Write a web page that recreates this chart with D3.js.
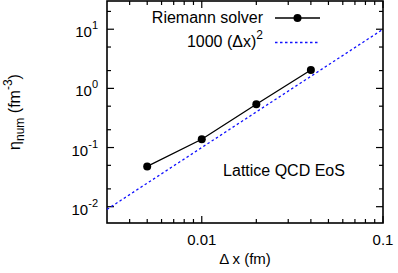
<!DOCTYPE html>
<html>
<head>
<meta charset="utf-8">
<script src="https://cdn.jsdelivr.net/npm/d3@7"></script>
<style>
  body { margin: 0; background: #fff; }
  text { font-family: "Liberation Sans", Arial, sans-serif; fill: #000; }
</style>
</head>
<body>
<div id="chart"></div>
<script>
// Riemann solver results
const dx = [0.005, 0.01, 0.02, 0.04];
const etaNum = [0.048, 0.138, 0.54, 2.04];

// reference line 1000 (dx)^2, endpoints
const refX = [0.003, 0.1];
const refY = [0.009, 10];

const xTicks = [0.01, 0.1];
const xTickLabels = ['0.01', '0.1'];
const yTicks = [0.01, 0.1, 1, 10];
const yTickExp = ['-2', '-1', '0', '1'];

const W = 398, H = 273;
const margin = {top: 1, right: 15, bottom: 50, left: 107};
const width = W - margin.left - margin.right;
const height = H - margin.top - margin.bottom;

const svg = d3.select('#chart').append('svg')
  .attr('width', W)
  .attr('height', H);

const g = svg.append('g')
  .attr('transform', 'translate(' + margin.left + ',' + margin.top + ')');

const x = d3.scaleLog().domain([0.003, 0.1]).range([0, width]);
const y = d3.scaleLog().domain([0.0053, 30]).range([height, 0]);

// minor ticks
const xMinor = [];
[0.001, 0.01].forEach(b => { for (let k = 2; k <= 9; k++) xMinor.push(b * k); });
const xMinorIn = xMinor.filter(v => v > 0.003 && v < 0.1);
const yMinor = [];
[0.001, 0.01, 0.1, 1, 10].forEach(b => { [2, 5].forEach(k => yMinor.push(b * k)); });
const yMinorIn = yMinor.filter(v => v > y.domain()[0] && v < y.domain()[1]);

const majorLen = 7, minorLen = 4;
const ticks = g.append('g').attr('stroke', '#000').attr('stroke-width', 1.2);

function xTick(v, len) {
  ticks.append('line').attr('x1', x(v)).attr('x2', x(v)).attr('y1', height).attr('y2', height - len);
  ticks.append('line').attr('x1', x(v)).attr('x2', x(v)).attr('y1', 0).attr('y2', len);
}
function yTick(v, len) {
  ticks.append('line').attr('y1', y(v)).attr('y2', y(v)).attr('x1', 0).attr('x2', len);
  ticks.append('line').attr('y1', y(v)).attr('y2', y(v)).attr('x1', width).attr('x2', width - len);
}
xMinorIn.forEach(v => xTick(v, minorLen));
xTicks.forEach(v => xTick(v, majorLen));
yMinorIn.forEach(v => yTick(v, minorLen));
yTicks.forEach(v => yTick(v, majorLen));

// frame
g.append('rect')
  .attr('width', width)
  .attr('height', height)
  .attr('fill', 'none')
  .attr('stroke', '#000')
  .attr('stroke-width', 1.6);

// x tick labels
g.selectAll('.xlab')
  .data(xTicks)
  .enter().append('text')
  .attr('class', 'xlab')
  .attr('x', d => x(d))
  .attr('y', height + 22)
  .attr('text-anchor', 'middle')
  .style('font-size', '15px')
  .text((d, i) => xTickLabels[i]);

// y tick labels
const ylab = g.selectAll('.ylab')
  .data(yTicks)
  .enter().append('text')
  .attr('class', 'ylab')
  .attr('x', -9)
  .attr('y', d => y(d) + 8)
  .attr('text-anchor', 'end')
  .style('font-size', '15px');
ylab.append('tspan').text('10');
ylab.append('tspan')
  .attr('dy', -8)
  .style('font-size', '11px')
  .text((d, i) => yTickExp[i]);

// reference line
const line = d3.line().x(d => x(d[0])).y(d => y(d[1]));
g.append('path')
  .datum(refX.map((v, i) => [v, refY[i]]))
  .attr('d', line)
  .attr('fill', 'none')
  .attr('stroke', '#1010ff')
  .attr('stroke-width', 1.3)
  .attr('stroke-dasharray', '2.5,2.5');

// Riemann solver
g.append('path')
  .datum(dx.map((v, i) => [v, etaNum[i]]))
  .attr('d', line)
  .attr('fill', 'none')
  .attr('stroke', '#000')
  .attr('stroke-width', 1.3);

g.selectAll('.pt')
  .data(dx)
  .enter().append('circle')
  .attr('class', 'pt')
  .attr('cx', d => x(d))
  .attr('cy', (d, i) => y(etaNum[i]))
  .attr('r', 4)
  .attr('fill', '#000');

// legend
const lg = svg.append('g');
lg.append('text')
  .attr('x', 263).attr('y', 23)
  .attr('text-anchor', 'end')
  .style('font-size', '16px')
  .text('Riemann solver');
lg.append('line')
  .attr('x1', 275).attr('x2', 320).attr('y1', 18).attr('y2', 18)
  .attr('stroke', '#000').attr('stroke-width', 1.3);
lg.append('circle')
  .attr('cx', 297.5).attr('cy', 18).attr('r', 4).attr('fill', '#000');

const t2 = lg.append('text')
  .attr('x', 263).attr('y', 47)
  .attr('text-anchor', 'end')
  .style('font-size', '16px');
t2.append('tspan').text('1000 (\u0394x)');
t2.append('tspan').attr('dy', -8).style('font-size', '12px').text('2');
lg.append('line')
  .attr('x1', 275).attr('x2', 318).attr('y1', 42.5).attr('y2', 42.5)
  .attr('stroke', '#1010ff').attr('stroke-width', 1.3)
  .attr('stroke-dasharray', '2.5,2.5');

// annotation
svg.append('text')
  .attr('x', 284).attr('y', 176)
  .attr('text-anchor', 'middle')
  .style('font-size', '16px')
  .text('Lattice QCD EoS');

// x axis title
svg.append('text')
  .attr('x', margin.left + width / 2)
  .attr('y', 264)
  .attr('text-anchor', 'middle')
  .style('font-size', '15px')
  .text('\u0394 x (fm)');

// y axis title
const yt = svg.append('text')
  .attr('transform', 'translate(20,' + 112 + ') rotate(-90)')
  .attr('text-anchor', 'middle')
  .style('font-size', '16px');
yt.append('tspan').text('\u03b7');
yt.append('tspan').attr('dy', 4).style('font-size', '12px').text('num');
yt.append('tspan').attr('dy', -4).text(' (fm');
yt.append('tspan').attr('dy', -8).style('font-size', '12px').text('-3');
yt.append('tspan').attr('dy', 8).text(')');
</script>
</body>
</html>
